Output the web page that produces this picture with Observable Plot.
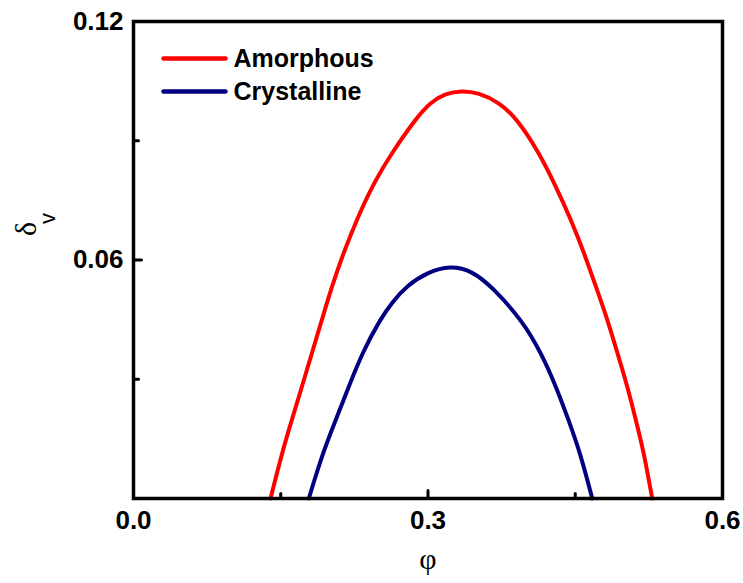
<!DOCTYPE html>
<html>
<head>
<meta charset="utf-8">
<script src="https://cdn.jsdelivr.net/npm/d3@7"></script>
<script src="https://cdn.jsdelivr.net/npm/@observablehq/plot@0.6"></script>
<style>
  html, body { margin: 0; padding: 0; background: #fff; }
  #chart { width: 743px; height: 583px; }
</style>
</head>
<body>
<div id="chart"></div>
<script>
// ---- data ----
const seriesNames = ["Amorphous", "Crystalline"];
const seriesColors = ["#ff0000", "#000080"];

const phiAmorphous   = [0.1396, 0.1515, 0.1617, 0.1719, 0.1820, 0.1922, 0.2024, 0.2142, 0.2279, 0.2432, 0.2635, 0.2873, 0.3026, 0.3178, 0.3341, 0.3515, 0.3721, 0.3909, 0.4129, 0.4299, 0.4452, 0.4587, 0.4706, 0.4826, 0.4927, 0.5029, 0.5114, 0.5198, 0.5284];
const deltaAmorphous = [0.0000, 0.0117, 0.0201, 0.0284, 0.0368, 0.0452, 0.0536, 0.0620, 0.0704, 0.0787, 0.0871, 0.0955, 0.0997, 0.1019, 0.1026, 0.1021, 0.0997, 0.0955, 0.0871, 0.0787, 0.0704, 0.0620, 0.0536, 0.0452, 0.0368, 0.0284, 0.0201, 0.0117, 0.0000];

const phiCrystalline   = [0.1786, 0.1925, 0.2058, 0.2190, 0.2333, 0.2516, 0.2635, 0.2788, 0.2992, 0.3229, 0.3453, 0.3654, 0.3960, 0.4156, 0.4309, 0.4434, 0.4554, 0.4673];
const deltaCrystalline = [0.0000, 0.0113, 0.0196, 0.0280, 0.0368, 0.0452, 0.0494, 0.0536, 0.0569, 0.0586, 0.0572, 0.0532, 0.0448, 0.0365, 0.0279, 0.0196, 0.0112, 0.0000];

const xMajorTicks = [0, 0.3, 0.6];
const xMinorTicks = [0.15, 0.45];
const yMajorTicks = [0, 0.06, 0.12];
const yMinorTicks = [0.03, 0.09];
const xTickLabels = ["0.0", "0.3", "0.6"];
const yLabelTicks = [0.06, 0.12];
const yTickLabels = ["0.06", "0.12"];
const xTitle = "φ";
const yTitleMain = "δ";
const yTitleSub = "v";

// ---- build table ----
const rows = [
  ...phiAmorphous.map((p, i) => ({series: seriesNames[0], phi: p, delta: deltaAmorphous[i]})),
  ...phiCrystalline.map((p, i) => ({series: seriesNames[1], phi: p, delta: deltaCrystalline[i]}))
];

const sans = "'Liberation Sans', Arial, sans-serif";
const serif = "'Liberation Serif', 'DejaVu Serif', serif";

// plain line tick shape for Plot.vector
const tickShape = {draw(context, l) { context.moveTo(0, 0); context.lineTo(0, -l); }};

const legendMarks = seriesNames.flatMap((name, i) => [
  Plot.vector([name], {frameAnchor: "top-left", dx: 30, dy: 37 + i * 33, rotate: 90, length: 62, anchor: "start",
    shape: tickShape, stroke: seriesColors[i], strokeWidth: 4.5}),
  Plot.text([name], {frameAnchor: "top-left", dx: 100, dy: 37 + i * 33, textAnchor: "start", lineAnchor: "middle",
    fontSize: 25, fontWeight: "bold", fill: "#000"})
]);

const chart = Plot.plot({
  width: 743,
  height: 583,
  marginLeft: 133,
  marginRight: 21,
  marginTop: 21,
  marginBottom: 85,
  style: {background: "#fff", fontFamily: sans, overflow: "visible"},
  x: {domain: [0, 0.6]},
  y: {domain: [0, 0.12]},
  color: {domain: seriesNames, range: seriesColors},
  marks: [
    Plot.line(rows, {x: "phi", y: "delta", z: "series", stroke: "series", strokeWidth: 4, curve: "basis"}),
    Plot.axisX(xMajorTicks, {tickSize: 0, tickPadding: 12, fontSize: 26, fontWeight: "bold", label: null,
      tickFormat: (d) => xTickLabels[xMajorTicks.indexOf(d)], fill: "#000"}),
    Plot.axisY(yLabelTicks, {tickSize: 0, tickPadding: 10, fontSize: 26, fontWeight: "bold", label: null,
      tickFormat: (d) => yTickLabels[yLabelTicks.indexOf(d)], fill: "#000"}),
    Plot.vector(xMajorTicks, {x: d => d, frameAnchor: "bottom", rotate: 0, length: 8, anchor: "start", shape: tickShape, stroke: "#000", strokeWidth: 3}),
    Plot.vector(xMinorTicks, {x: d => d, frameAnchor: "bottom", rotate: 0, length: 5, anchor: "start", shape: tickShape, stroke: "#000", strokeWidth: 3}),
    Plot.vector(yMajorTicks, {y: d => d, frameAnchor: "left", rotate: 90, length: 8, anchor: "start", shape: tickShape, stroke: "#000", strokeWidth: 3}),
    Plot.vector(yMinorTicks, {y: d => d, frameAnchor: "left", rotate: 90, length: 5, anchor: "start", shape: tickShape, stroke: "#000", strokeWidth: 3}),
    Plot.frame({stroke: "#000", strokeWidth: 3.5}),
    Plot.text([xTitle], {frameAnchor: "bottom", dy: 70, fontSize: 30, fontFamily: serif, fill: "#000"}),
    Plot.text([yTitleMain], {frameAnchor: "left", dx: -107, dy: -24, rotate: -90, fontSize: 30, fontFamily: serif, fill: "#000"}),
    Plot.text([yTitleSub], {frameAnchor: "left", dx: -86, dy: -36, rotate: -90, fontSize: 22, fontFamily: sans, fill: "#000"}),
    ...legendMarks
  ]
});

document.getElementById("chart").appendChild(chart);
</script>
</body>
</html>
